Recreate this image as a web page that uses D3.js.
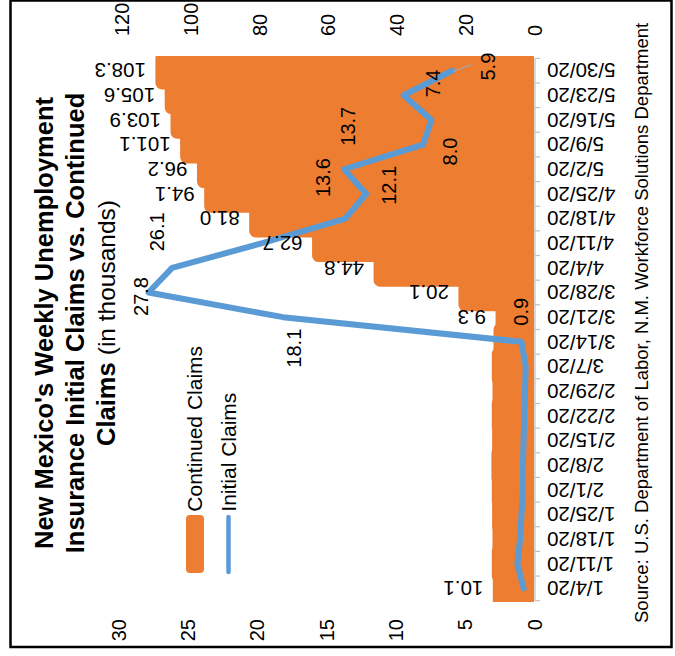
<!DOCTYPE html>
<html>
<head>
<meta charset="utf-8">
<script src="https://cdn.jsdelivr.net/npm/d3@7"></script>
<style>
  html, body { margin: 0; padding: 0; background: #fff; }
  svg { display: block; font-family: "Liberation Sans", Arial, sans-serif; }
</style>
</head>
<body>
<svg id="chart" width="675" height="656"></svg>
<script>
// Weekly claims, in thousands
const weeks = ["1/4/20","1/11/20","1/18/20","1/25/20","2/1/20","2/8/20","2/15/20","2/22/20",
  "2/29/20","3/7/20","3/14/20","3/21/20","3/28/20","4/4/20","4/11/20","4/18/20","4/25/20",
  "5/2/20","5/9/20","5/16/20","5/23/20","5/30/20"];
const continuedClaims = [10.1,10.4,10.2,10.3,10.4,10.5,10.3,10.4,10.2,10.4,9.9,
  9.3,20.1,44.8,62.7,81.0,94.1,96.2,101.1,103.9,105.6,108.3];
const initialClaims = [0.75,1.2,1.0,0.9,0.8,0.8,0.75,0.7,0.65,0.6,0.9,
  18.1,27.8,26.1,19.6,13.6,12.1,13.7,8.0,7.4,9.4,5.9];
// Weeks whose values are printed
const continuedLabelled = ["1/4/20","3/21/20","3/28/20","4/4/20","4/11/20","4/18/20","4/25/20","5/2/20","5/9/20","5/16/20","5/23/20","5/30/20"];
const initialLabelled = ["3/14/20","3/21/20","3/28/20","4/4/20","4/18/20","4/25/20","5/2/20","5/9/20","5/16/20","5/30/20"];
const continuedTicks = [0,20,40,60,80,100,120];
const initialTicks = [0,5,10,15,20,25,30];

// label nudges (px) for the initial-claims values, keyed by week
const initialNudge = {
  "3/14/20": [-0.5,-30], "3/21/20": [11,31], "3/28/20": [-8,4], "4/4/20": [-15.5,-36],
  "4/18/20": [-22,-41], "4/25/20": [23,-8.5], "5/2/20": [3.5,-43], "5/9/20": [26.5,7],
  "5/16/20": [2,-36.5], "5/30/20": [36,-4]
};

const ORANGE = "#ED7D31", BLUE = "#5B9BD5";
const svg = d3.select("#chart");

// frame
svg.append("rect").attr("x", 10.5).attr("y", 0.5).attr("width", 661).attr("height", 646.5)
  .attr("fill", "none").attr("stroke", "#000").attr("stroke-width", 2.5);

// The chart is laid on its side: weeks run bottom-to-top, values run right-to-left.
const y = d3.scaleBand().domain(weeks).range([600.7, 58.3]).padding(0);
const xR = d3.scaleLinear().domain([0,120]).range([534, 121.7]);
const xL = d3.scaleLinear().domain([0,30]).range([534, 118]);

// clip for the bar outlines
svg.append("clipPath").attr("id", "plotClip").append("rect")
  .attr("x", 0).attr("y", 56).attr("width", 534).attr("height", 546);

// continued claims bars (gap-free columns with a thick rounded outline)
svg.append("g").attr("clip-path", "url(#plotClip)")
  .selectAll("rect").data(weeks).join("rect")
  .attr("x", (d,i) => xR(continuedClaims[i]))
  .attr("width", (d,i) => xR(0) - xR(continuedClaims[i]))
  .attr("y", d => y(d))
  .attr("height", y.bandwidth())
  .attr("fill", ORANGE).attr("stroke", ORANGE)
  .attr("stroke-width", 13).attr("stroke-linejoin", "round");

// category axis line with boundary ticks
const axisG = svg.append("g").attr("stroke", "#BFBFBF").attr("stroke-width", 1.2);
axisG.append("line").attr("x1", 535).attr("x2", 535)
  .attr("y1", y(weeks[weeks.length-1])).attr("y2", y(weeks[0]) + y.bandwidth());
const bounds = weeks.map(d => y(d)).concat([y(weeks[0]) + y.bandwidth()]);
axisG.selectAll("line.tk").data(bounds).join("line").attr("class", "tk")
  .attr("x1", 535).attr("x2", 540).attr("y1", d => d).attr("y2", d => d);

// initial claims line
const line = d3.line()
  .x((d,i) => xL(initialClaims[i]))
  .y(d => y(d) + y.bandwidth()/2);
svg.append("path").datum(weeks).attr("d", line)
  .attr("fill", "none").attr("stroke", BLUE).attr("stroke-width", 6)
  .attr("stroke-linejoin", "round").attr("stroke-linecap", "round");

// leader line for the last value
{
  const i = weeks.indexOf("5/30/20");
  const px = xL(initialClaims[i]), py = y("5/30/20") + y.bandwidth()/2;
  svg.append("line").attr("x1", px + 1).attr("y1", py + 1).attr("x2", px + 19).attr("y2", py - 6)
    .attr("stroke", "#A6A6A6").attr("stroke-width", 1.2);
}

// week labels (upside down along the right edge)
const dateAxis = d3.axisRight(y).tickSize(0).tickPadding(0);
const dg = svg.append("g").attr("transform", "translate(535,0)").call(dateAxis);
dg.select(".domain").remove();
dg.selectAll("text")
  .attr("x", null).attr("dy", "0.35em")
  .attr("transform", "translate(12,0) rotate(180)")
  .attr("text-anchor", "end")
  .attr("font-size", 20.5).attr("fill", "#000")
  .attr("font-family", "Liberation Sans, Arial, sans-serif");

// continued claims axis (top)
const topAxis = d3.axisTop(xR).tickValues(continuedTicks).tickSize(0).tickPadding(0);
const tg = svg.append("g").attr("transform", "translate(0,36)").call(topAxis);
tg.select(".domain").remove();
tg.selectAll("text")
  .attr("x", 0).attr("y", 0).attr("dy", "0.35em")
  .attr("transform", "rotate(-90)").attr("text-anchor", "start")
  .attr("font-size", 20).attr("fill", "#000")
  .attr("font-family", "Liberation Sans, Arial, sans-serif");

// initial claims axis (bottom)
const botAxis = d3.axisBottom(xL).tickValues(initialTicks).tickSize(0).tickPadding(0);
const bg = svg.append("g").attr("transform", "translate(0,619)").call(botAxis);
bg.select(".domain").remove();
bg.selectAll("text")
  .attr("x", 0).attr("y", 0).attr("dy", "0.35em")
  .attr("transform", "rotate(-90)").attr("text-anchor", "end")
  .attr("font-size", 20).attr("fill", "#000")
  .attr("font-family", "Liberation Sans, Arial, sans-serif");

// continued claims value labels
svg.append("g").selectAll("text").data(continuedLabelled).join("text")
  .attr("transform", d => {
    const i = weeks.indexOf(d);
    return `translate(${xR(continuedClaims[i]) - 16},${y(d) + y.bandwidth()/2}) rotate(180)`;
  })
  .attr("dy", "0.35em").attr("text-anchor", "start")
  .attr("font-size", 20.5).attr("fill", "#000")
  .text(d => continuedClaims[weeks.indexOf(d)].toFixed(1));

// initial claims value labels
svg.append("g").selectAll("text").data(initialLabelled).join("text")
  .attr("transform", d => {
    const i = weeks.indexOf(d);
    const n = initialNudge[d];
    return `translate(${xL(initialClaims[i]) + n[0]},${y(d) + y.bandwidth()/2 + n[1]}) rotate(-90)`;
  })
  .attr("dy", "0.35em").attr("text-anchor", "middle")
  .attr("font-size", 20).attr("fill", "#000")
  .text(d => initialClaims[weeks.indexOf(d)].toFixed(1));

// title
const title = svg.append("g").attr("fill", "#000");
title.append("text").attr("transform", "translate(53.3,323) rotate(-90)")
  .attr("text-anchor", "middle").attr("font-size", 25.5).attr("font-weight", "bold")
  .text("New Mexico's Weekly Unemployment");
title.append("text").attr("transform", "translate(83.6,323) rotate(-90)")
  .attr("text-anchor", "middle").attr("font-size", 25.5).attr("font-weight", "bold")
  .text("Insurance Initial Claims vs. Continued");
const t3 = title.append("text").attr("transform", "translate(114.5,323) rotate(-90)")
  .attr("text-anchor", "middle").attr("font-size", 25.5);
t3.append("tspan").attr("font-weight", "bold").text("Claims ");
t3.append("tspan").attr("font-size", 24.5).text("(in thousands)");

// legend
svg.append("rect").attr("x", 186).attr("y", 515).attr("width", 18).attr("height", 58)
  .attr("rx", 4).attr("fill", ORANGE);
svg.append("text").attr("transform", "translate(201.7,511.7) rotate(-90)")
  .attr("font-size", 21).attr("fill", "#000").text("Continued Claims");
svg.append("line").attr("x1", 228.5).attr("x2", 228.5).attr("y1", 517).attr("y2", 572)
  .attr("stroke", BLUE).attr("stroke-width", 4.5).attr("stroke-linecap", "round");
svg.append("text").attr("transform", "translate(236,511.7) rotate(-90)")
  .attr("font-size", 21).attr("fill", "#000").text("Initial Claims");

// source
svg.append("text").attr("transform", "translate(648,623) rotate(-90)")
  .attr("font-size", 18.5).attr("fill", "#000")
  .text("Source: U.S. Department of Labor, N.M. Workforce Solutions Department");
</script>
</body>
</html>
